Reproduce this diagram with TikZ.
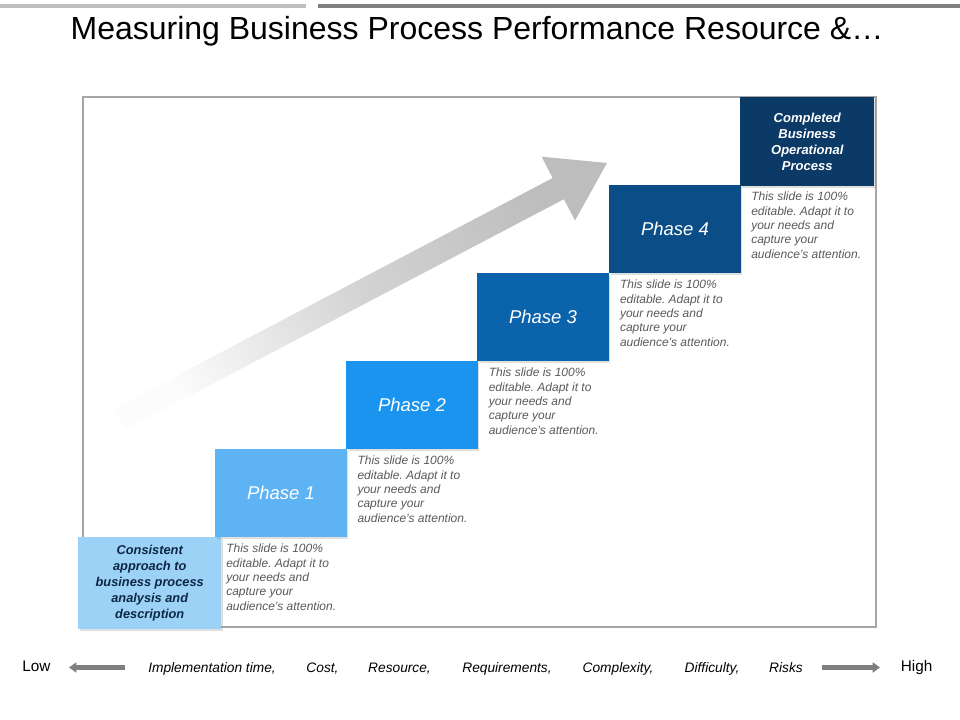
\documentclass[tikz,border=0pt]{standalone}
\usepackage{fontspec}
\setmainfont{Liberation Sans}
\frenchspacing
\usetikzlibrary{shadows,arrows.meta}
\definecolor{barlight}{HTML}{BFBFBF}
\definecolor{bardark}{HTML}{7F7F7F}
\definecolor{framegray}{HTML}{A6A6A6}
\definecolor{cbox}{HTML}{9DD2F7}
\definecolor{ph1}{HTML}{5EB3F4}
\definecolor{ph2}{HTML}{1B94EF}
\definecolor{ph3}{HTML}{0B63AB}
\definecolor{ph4}{HTML}{0A4D87}
\definecolor{cmpl}{HTML}{0C3A66}
\definecolor{navytext}{HTML}{0D2645}
\definecolor{desctext}{HTML}{595959}
\definecolor{arrowgray}{HTML}{BDBDBD}
\definecolor{arrowmid}{HTML}{D3D3D3}
\definecolor{arrowtail}{HTML}{FCFCFC}
\begin{document}
\begin{tikzpicture}[x=0.75pt,y=-0.75pt,
  stepbox/.style={draw=none,inner sep=0pt,anchor=north west,text=white,
    minimum width=98.6pt,minimum height=66pt,
    font=\itshape\fontsize{13.9}{16}\selectfont,
    drop shadow={opacity=0.25,shadow xshift=1pt,shadow yshift=-1pt}},
  descbox/.style={inner sep=0pt,anchor=north west,align=left,text=desctext,
    font=\itshape\fontsize{9}{10.75}\selectfont},
  axislabel/.style={inner sep=0pt,anchor=base,text=black,
    font=\itshape\fontsize{10.3}{12}\selectfont},
  endlabel/.style={inner sep=0pt,anchor=base west,text=black,
    font=\fontsize{11.5}{13}\selectfont},
  smallarrow/.style={draw=bardark,line width=3.4pt,
    -{Triangle[length=5.5pt,width=7.5pt]}}]
\useasboundingbox (0,0) rectangle (960,720);
% top bars
\fill[barlight] (0,4) rectangle (306,8.5);
\fill[bardark] (318,4) rectangle (960,8.5);
% title
\node[inner sep=0pt,anchor=base,font=\fontsize{24}{28}\selectfont] (title) at (477,39.3)
  {Measuring Business Process Performance Resource \&…};
% frame
\draw[framegray,line width=1.5pt] (83,97) rectangle (875.5,627);
% big gradient arrow
\shade[top color=arrowgray,bottom color=arrowtail,middle color=arrowmid,shading angle=-62.3]
  (114.4,408.3) -- (552.7,178.0) -- (541.6,156.7) -- (607,163) -- (575,220.5)
  -- (563.9,199.2) -- (125.6,429.5) -- cycle;
% boxes
\node[stepbox,fill=cbox,minimum width=107.2pt,minimum height=69pt,text=navytext,
  align=center,font=\bfseries\itshape\fontsize{9.6}{12}\selectfont] (start) at (78,537)
  {Consistent\\approach to\\business process\\analysis and\\description};
\node[stepbox,fill=ph1] (p1) at (215,449) {Phase 1};
\node[stepbox,fill=ph2] (p2) at (346,361) {Phase 2};
\node[stepbox,fill=ph3] (p3) at (477,273) {Phase 3};
\node[stepbox,fill=ph4] (p4) at (609,185) {Phase 4};
\node[stepbox,fill=cmpl,minimum width=100.5pt,minimum height=66.75pt,align=center,
  font=\bfseries\itshape\fontsize{9.75}{12}\selectfont] (done) at (740,97)
  {Completed\\Business\\Operational\\Process};
% descriptions
\foreach \i/\nm in {0/d1,1/d2,2/d3,3/d4,4/d5}{
  \node[descbox] (\nm) at ({226+131.25*\i},{544-88*\i})
    {This slide is 100\%\\editable. Adapt it to\\your needs and\\capture your\\audience’s attention.};
}
% bottom axis
\node[endlabel] (low) at (22,671) {Low};
\node[endlabel] (high) at (900.5,671) {High};
\coordinate (la1) at (125,667.5);
\coordinate (la2) at (69,667.5);
\coordinate (ra1) at (822,667.5);
\coordinate (ra2) at (880,667.5);
\draw[smallarrow] (la1) -- (la2);
\draw[smallarrow] (ra1) -- (ra2);
\node[axislabel] (l1) at (212,672) {Implementation time,};
\node[axislabel] (l2) at (322.5,672) {Cost,};
\node[axislabel] (l3) at (399.5,672) {Resource,};
\node[axislabel] (l4) at (507,672) {Requirements,};
\node[axislabel] (l5) at (618,672) {Complexity,};
\node[axislabel] (l6) at (712,672) {Difficulty,};
\node[axislabel] (l7) at (786,672) {Risks};
\end{tikzpicture}
\end{document}
